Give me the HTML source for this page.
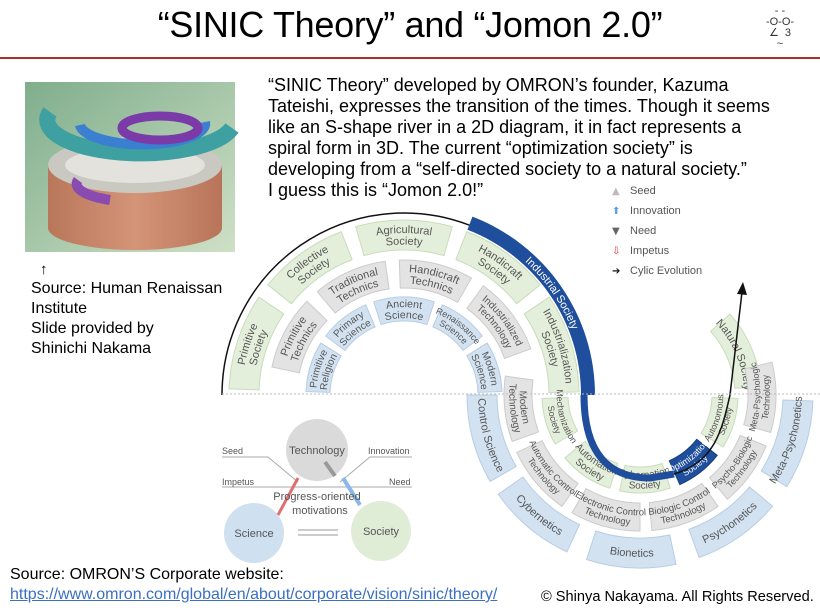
<!DOCTYPE html>
<html><head><meta charset="utf-8"><style>
html,body{margin:0;padding:0;background:#fff}
body{width:820px;height:615px;position:relative;overflow:hidden;font-family:"Liberation Sans",sans-serif}
.t{position:absolute;white-space:nowrap;color:#000}
</style></head><body>
<div class="t" style="left:0;width:820px;text-align:center;top:4px;font-size:36px;letter-spacing:-0.3px">“SINIC Theory” and “Jomon 2.0”</div>
<div style="position:absolute;left:0;top:57px;width:820px;height:2px;background:#a8322d"></div>
<div class="t" style="left:760px;top:6px;font-size:11px;line-height:11px;color:#333;text-align:center;width:40px">- -<br>-O-O-<br>∠ &nbsp;3<br>~</div>

<div class="t" style="left:268px;top:75px;font-size:18px;line-height:21px">“SINIC Theory” developed by OMRON’s founder, Kazuma<br>Tateishi, expresses the transition of the times. Though it seems<br>like an S-shape river in a 2D diagram, it in fact represents a<br>spiral form in 3D. The current “optimization society” is<br>developing from a “self-directed society to a natural society.”<br>I guess this is “Jomon 2.0!”</div>

<div class="t" style="left:40px;top:261px;font-size:15px">↑</div>
<div class="t" style="left:31px;top:279px;font-size:16px;line-height:20px">Source: Human Renaissan<br>Institute<br>Slide provided by<br>Shinichi Nakama</div>

<div class="t" style="left:10px;top:566px;font-size:16px">Source: OMRON’S Corporate website:</div>
<div class="t" style="left:10px;top:586px;font-size:16px;color:#3b6fc2;text-decoration:underline">https://www.omron.com/global/en/about/corporate/vision/sinic/theory/</div>
<div class="t" style="left:541px;top:589px;font-size:14.6px">© Shinya Nakayama. All Rights Reserved.</div>

<svg id="s" width="820" height="615" style="position:absolute;left:0;top:0" xmlns="http://www.w3.org/2000/svg">
<defs>
<linearGradient id="bg" x1="0" y1="0" x2="1" y2="1"><stop offset="0" stop-color="#7fae8c"/><stop offset="1" stop-color="#cfe0c6"/></linearGradient>
<linearGradient id="cyl" x1="0" y1="0" x2="1" y2="0"><stop offset="0" stop-color="#b9775a"/><stop offset="0.5" stop-color="#d49478"/><stop offset="1" stop-color="#b87458"/></linearGradient>
</defs>
<rect x="25" y="82" width="210" height="170" fill="url(#bg)"/>
<path d="M48,165 L48,228 A87,22 0 0 0 222,228 L222,165 Z" fill="url(#cyl)"/>
<ellipse cx="135" cy="165" rx="87" ry="28" fill="#c9c9c2"/>
<ellipse cx="135" cy="165" rx="70" ry="18" fill="#e4e2dc"/>
<path d="M50,112 A90,32 0 1 0 232,128" fill="none" stroke="#3ea0a0" stroke-width="16"/>
<path d="M80,125 A60,20 0 1 0 205,122" fill="none" stroke="#3a7fd0" stroke-width="10"/>
<ellipse cx="160" cy="128" rx="38" ry="12" fill="none" stroke="#7a3aa8" stroke-width="9"/>
<path d="M78,180 A60,18 0 0 0 110,200" fill="none" stroke="#8a4bb0" stroke-width="10"/>
<g id="g"></g>
<line x1="222" y1="394" x2="820" y2="394" stroke="#bbb" stroke-dasharray="2,2"/>
</svg>
<script>
var g=document.getElementById('g'),id=0,h='';
function P(cx,cy,r,a){a=a*Math.PI/180;return [cx+r*Math.cos(a),cy+r*Math.sin(a)];}
function arc(cx,cy,r,a0,a1,rev){var p=P(cx,cy,r,rev?a1:a0),q=P(cx,cy,r,rev?a0:a1);var lg=Math.abs(a1-a0)>180?1:0;return 'M'+p[0].toFixed(1)+','+p[1].toFixed(1)+' A'+r+','+r+' 0 '+lg+' '+(rev?0:1)+' '+q[0].toFixed(1)+','+q[1].toFixed(1);}
function seg(cx,cy,r,w,a0,a1,fill,stroke,lines,lower,fs,tc){
 var o=P(cx,cy,r+w/2,a0),o2=P(cx,cy,r+w/2,a1),i1=P(cx,cy,r-w/2,a1),i0=P(cx,cy,r-w/2,a0);
 h+='<path d="M'+o+' A'+(r+w/2)+','+(r+w/2)+' 0 0 1 '+o2+' L'+i1+' A'+(r-w/2)+','+(r-w/2)+' 0 0 0 '+i0+' Z" fill="'+fill+'" stroke="'+(stroke||'none')+'" stroke-width="1"/>';
 fs=fs||11;tc=tc||'#555';
 var n=lines.length;
 for(var k=0;k<n;k++){
  var off=(k-(n-1)/2)*(fs+0.5);
  var rr=lower? r+off+fs*0.35 : r-off-fs*0.35;
  id++;
  h+='<path id="p'+id+'" d="'+arc(cx,cy,rr,a0-20,a1+20,lower)+'" fill="none"/>';
  h+='<text font-family="Liberation Sans" font-size="'+fs+'" fill="'+tc+'"><textPath href="#p'+id+'" startOffset="50%" text-anchor="middle">'+lines[k]+'</textPath></text>';
 }
}
var GF='#e4efdb',GS='#c9dcbb',YF='#e3e3e3',YS='#cccccc',BF='#d3e2f1',BS='#b7cde4';
var ux=404,uy=395,lx=640,ly=395;
seg(ux,uy,160,30,182,214,GF,GS,['Primitive','Society']);
seg(ux,uy,160,30,219,249,GF,GS,['Collective','Society']);
seg(ux,uy,160,30,254,286,GF,GS,['Agricultural','Society']);
seg(ux,uy,160,30,291,321,GF,GS,['Handicraft','Society']);
seg(ux,uy,160,30,326,359,GF,GS,['Industrialization','Society']);
seg(ux,uy,121,28,192,224,YF,YS,['Primitive','Technics']);
seg(ux,uy,121,28,230,262,YF,YS,['Traditional','Technics']);
seg(ux,uy,121,28,268,300,YF,YS,['Handicraft','Technics']);
seg(ux,uy,121,28,306,340,YF,YS,['Industrialized','Technology'],false,10);
seg(ux,uy,86,24,182,212,BF,BS,['Primitive','Religion'],false,10);
seg(ux,uy,86,24,217,247,BF,BS,['Primary','Science'],false,10);
seg(ux,uy,86,24,252,288,BF,BS,['Ancient','Science'],false,10.5);
seg(ux,uy,86,24,293,323,BF,BS,['Renaissance','Science'],false,9);
seg(ux,uy,86,24,328,358,BF,BS,['Modern','Science'],false,10);
seg(lx,ly,85,26,150,178,GF,GS,['Mechanization','Society'],true,9);
seg(lx,ly,85,26,108,140,GF,GS,['Automation','Society'],true,10);
seg(lx,ly,85,26,72,102,GF,GS,['Cybernation','Society'],true,10);
seg(lx,ly,85,26,38,66,'#1f4e9c','#163e80',['Optimization','Society'],true,9,'#fff');
seg(lx,ly,85,26,2,32,GF,GS,['Autonomous','Society'],true,9);
seg(lx,ly,108,26,318,356,GF,GS,['Natural Society'],false,11);
seg(lx,ly,122,28,160,188,YF,YS,['Modern','Technology'],true,10);
seg(lx,ly,122,28,125,155,YF,YS,['Automatic Control','Technology'],true,9);
seg(lx,ly,122,28,90,120,YF,YS,['Electronic Control','Technology'],true,9.5);
seg(lx,ly,122,28,55,85,YF,YS,['Biologic Control','Technology'],true,9.5);
seg(lx,ly,122,28,22,50,YF,YS,['Psycho-Biologic','Technology'],true,9);
seg(lx,ly,122,28,-14,16,YF,YS,['Meta-Psychologic','Technology'],true,9);
seg(lx,ly,158,30,150,180,BF,BS,['Control Science'],true,11);
seg(lx,ly,158,30,115,145,BF,BS,['Cybernetics'],true,11);
seg(lx,ly,158,30,78,108,BF,BS,['Bionetics'],true,11);
seg(lx,ly,158,30,40,70,BF,BS,['Psychonetics'],true,11);
seg(lx,ly,158,30,2,32,BF,BS,['Meta-Psychonetics'],true,11);
h+='<path d="'+arc(ux,uy,182,180,291)+'" fill="none" stroke="#111" stroke-width="1.5"/>';
seg(ux,uy,184,14,291,360,'#1f4e9c',null,['Industrial Society'],false,11,'#fff');
h+='<path d="M584,395 C584,455 610,478 650,478 L674,474" fill="none" stroke="#1f4e9c" stroke-width="7"/>';
h+='<path d="M674,474 C715,462 722,430 730,395 L742,292" fill="none" stroke="#111" stroke-width="1.5"/>';
h+='<path d="M737,294 L743,282 L747,295 Z" fill="#111"/>';
var L=[['Seed','#bbb','▲'],['Innovation','#5a9de0','⬆'],['Need','#666','▼'],['Impetus','#d33','⇩'],['Cylic Evolution','#111','➔']];
for(var k=0;k<5;k++){var y=194+k*20;h+='<text x="612" y="'+y+'" font-size="10" fill="'+L[k][1]+'" font-family="DejaVu Sans">'+L[k][2]+'</text><text x="630" y="'+y+'" font-size="11" fill="#555" font-family="Liberation Sans">'+L[k][0]+'</text>';}
h+='<circle cx="317" cy="450" r="31" fill="#dadada"/><circle cx="254" cy="533" r="30" fill="#cfe0f0"/><circle cx="381" cy="531" r="30" fill="#dfecd6"/>';
h+='<text x="317" y="454" font-size="11" fill="#555" text-anchor="middle" font-family="Liberation Sans">Technology</text>';
h+='<text x="254" y="537" font-size="11" fill="#555" text-anchor="middle" font-family="Liberation Sans">Science</text>';
h+='<text x="381" y="535" font-size="11" fill="#555" text-anchor="middle" font-family="Liberation Sans">Society</text>';
h+='<line x1="298" y1="530" x2="338" y2="530" stroke="#bbb" stroke-width="1.5"/><line x1="298" y1="535" x2="338" y2="535" stroke="#bbb" stroke-width="1.5"/>';
h+='<path d="M222,457 L268,457 L298,482 M412,457 L370,457 L340,482 M222,487 L412,487" fill="none" stroke="#aaa"/>';
h+='<text x="222" y="454" font-size="9" fill="#555" font-family="Liberation Sans">Seed</text><text x="368" y="454" font-size="9" fill="#555" font-family="Liberation Sans">Innovation</text>';
h+='<text x="222" y="485" font-size="9" fill="#555" font-family="Liberation Sans">Impetus</text><text x="389" y="485" font-size="9" fill="#555" font-family="Liberation Sans">Need</text>';
h+='<path d="M298,478 L278,515" stroke="#e07070" stroke-width="3"/><path d="M343,478 L360,505" stroke="#8ab8e8" stroke-width="4"/><path d="M335,476 L325,462" stroke="#999" stroke-width="4"/>';
h+='<text x="317" y="500" font-size="11" fill="#555" text-anchor="middle" font-family="Liberation Sans">Progress-oriented</text><text x="320" y="514" font-size="11" fill="#555" text-anchor="middle" font-family="Liberation Sans">motivations</text>';
g.innerHTML=h;
</script>
</body></html>
